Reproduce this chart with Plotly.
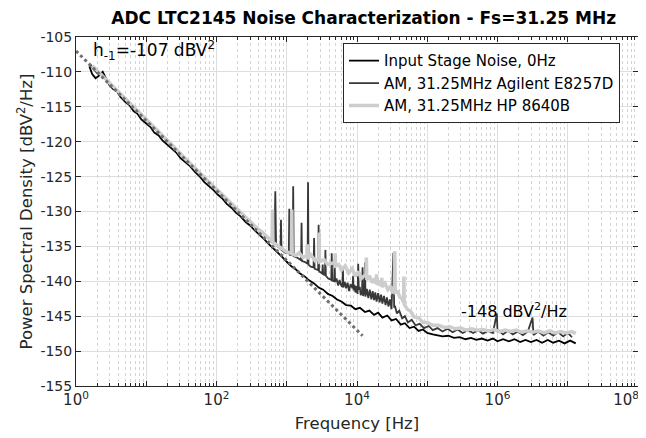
import plotly.graph_objects as go

# ---------------- data ----------------
ref_f = [1.0, 12000.0]
ref_psd = [-107.0, -147.8]

black_f = [1.55, 1.7, 1.9, 2.1, 2.4, 2.7, 3.0, 3.4, 3.8, 4.3, 5, 5.8, 6.6, 7.5, 8.5, 10, 11.5, 13, 15, 17, 20, 23, 27, 31, 36, 42,
           50, 58, 67, 78, 90, 105, 120, 140, 165, 190, 220, 260, 300, 350, 410, 480, 560, 650, 760, 880, 1000, 1150,
           1350, 1550, 1800, 2100, 2450, 2850, 3300, 3850, 4500, 5200, 6000, 7000, 8200, 9500, 11000, 13000, 15000,
           17500, 20000, 23000, 27000, 31000, 36000, 42000, 48000, 56000, 65000, 75000, 87000, 1e5, 1.2e5, 1.4e5,
           1.65e5, 2e5, 2.4e5, 2.9e5, 3.5e5, 4.2e5, 5e5, 6e5, 7.2e5, 8.6e5, 1.0e6, 1.2e6, 1.45e6, 1.75e6, 2.1e6, 2.5e6,
           3.0e6, 3.6e6, 4.3e6, 5.2e6, 6.2e6, 7.5e6, 9e6, 1.08e7, 1.3e7]
black_psd = [-109.2, -110.3, -110.9, -110.6, -110.0, -110.9, -111.9, -112.5, -112.7, -113.6, -114.3, -114.8, -115.6,
             -116.0, -116.8, -117.4, -117.9, -118.7, -119.1, -119.8, -120.4, -121.0, -121.6, -122.4, -122.9, -123.5,
             -124.4, -125.0, -125.8, -126.3, -126.9, -127.6, -128.1, -128.9, -129.5, -130.2, -130.7, -131.5, -132.0,
             -132.7, -133.3, -134.0, -134.7, -135.3, -136.0, -136.6, -137.2, -137.8, -138.3, -138.9, -139.3, -139.9,
             -140.3, -140.9, -141.2, -141.8, -142.1, -142.6, -142.9, -143.4, -143.5, -144.0, -143.8, -144.4, -144.2,
             -144.8, -144.5, -145.2, -144.9, -145.6, -145.4, -146.2, -146.0, -146.7, -146.5, -147.1, -146.9, -147.4,
             -147.6, -147.7, -147.9, -147.8, -148.1, -148.0, -148.3, -148.1, -148.4, -148.2, -148.5, -148.2, -148.6,
             -148.3, -148.6, -148.3, -148.7, -148.4, -148.7, -148.4, -148.8, -148.4, -148.8, -148.5, -148.9, -148.5,
             -148.9]

agilent_f = [1.6, 1.8, 2.0, 2.3, 2.6, 3.0, 3.5, 4, 4.6, 5.3, 6.1, 7, 8, 9.2, 10.5, 12, 14, 16, 18.5, 21, 24.5, 28, 32,
             37, 43, 50, 58, 67, 78, 90, 105, 120, 140, 165, 190, 220, 260, 300, 350, 410, 480, 560, 640,
             670, 687, 705, 760, 815, 828, 842, 950, 1070, 1087, 1105, 1215, 1235, 1255, 1400, 1600, 1625, 1650, 1800,
             1980, 2010, 2040, 2200, 2410, 2450, 2490, 2650, 2800, 2840, 2880, 3050, 3200, 3250, 3300, 3500, 3550,
             3600, 3900, 4300, 4370, 4440, 4730, 4800, 4870, 5100, 5400, 5650, 5900, 6200, 6300, 6400, 6700, 7000,
             7350, 7700, 8100, 8650, 8800, 8950, 9200, 9500, 9850, 10200, 10400, 10600, 10950, 11300, 11800, 12000,
             12200, 12800, 13000, 13200, 13800, 14500, 15200, 16000, 16700, 17500, 18200, 19000, 20000, 21000, 22000,
             23000, 24200, 25500, 26700, 28000, 29500, 31000, 33000, 33800, 34600, 37000, 40000, 44000, 48000, 53000,
             60000, 68000, 78000, 90000, 1.05e5, 1.2e5, 1.4e5, 1.65e5, 1.95e5, 2.3e5, 2.7e5, 3.2e5, 3.8e5, 4.5e5,
             5.3e5, 6.2e5, 7.3e5, 8.6e5, 9.8e5, 1.0e6, 1.02e6, 1.2e6, 1.4e6, 1.65e6, 1.95e6, 2.3e6, 2.7e6, 3.15e6,
             3.2e6, 3.25e6, 3.8e6, 4.5e6, 5.3e6, 6.2e6, 7.3e6, 8.6e6, 1.0e7, 1.15e7, 1.3e7]
agilent_psd = [-109.0, -109.6, -110.2, -110.4, -111.0, -111.6, -112.2, -112.9, -113.5, -114.0, -114.6, -115.3, -115.9,
               -116.5, -117.1, -117.6, -118.4, -118.9, -119.6, -120.1, -120.8, -121.3, -122.0, -122.5, -123.3, -123.8,
               -124.6, -125.1, -125.9, -126.4, -127.1, -127.6, -128.4, -128.9, -129.7, -130.1, -130.9, -131.4, -132.1,
               -132.6, -133.3, -133.8, -134.5,
               -134.6, -127.1, -134.8, -135.1, -135.3, -131.2, -135.5, -135.9, -136.0, -129.6, -136.2, -136.3, -126.4,
               -136.4, -136.6, -137.0, -131.6, -137.1, -137.2, -137.5, -125.8, -137.6, -137.9, -138.0, -133.8, -138.2,
               -138.3, -138.4, -131.9, -138.6, -138.7, -138.9, -137.6, -139.0, -139.1, -135.5, -139.2, -139.6, -139.8,
               -136.0, -139.9, -140.0, -136.9, -140.1, -139.6, -140.6, -139.8, -140.5, -140.8, -138.0, -140.9, -140.1,
               -141.0, -140.2, -141.4, -140.4, -141.0, -139.2, -141.3, -140.5, -141.6, -140.7, -141.8, -137.5, -141.2,
               -140.8, -142.0, -141.4, -138.0, -142.1, -141.5, -137.3, -142.2, -141.1, -142.4, -141.2, -142.6, -141.4,
               -142.7, -141.6, -142.9, -141.7, -143.0, -141.9, -143.2, -142.1, -143.4, -142.3, -143.6, -142.6, -144.0,
               -135.9, -143.8, -143.5, -144.6, -144.2, -145.3, -145.0, -145.9, -145.5, -146.3, -146.1, -146.7, -146.4,
               -147.0, -146.7, -147.2, -146.8, -147.3, -146.9, -147.4, -147.0, -147.4, -147.0, -147.5, -147.1, -147.4,
               -144.6, -147.3, -147.0, -147.6, -147.1, -147.6, -147.2, -147.7, -147.2, -145.2, -147.3, -147.7, -147.2,
               -147.8, -147.3, -147.8, -147.3, -147.9, -147.4, -148.0]

hp_f = [1.7, 2.0, 2.4, 2.8, 3.3, 3.9, 4.6, 5.4, 6.4, 7.5, 8.8, 10.3, 12, 14, 16.5, 19.5, 23, 27, 32, 37, 44, 52, 61, 72,
        85, 100, 118, 140, 165, 195, 230, 270, 320, 380, 450, 530, 610, 618, 627, 636, 700, 800, 900, 1000, 1165, 1180,
        1195, 1350, 1500, 1700, 1935, 1960, 1985, 2200, 2550, 2870, 2900, 2930, 3400, 3800, 4850, 4900, 4950, 5500,
        6000, 6800, 7600, 8500, 9500, 10500, 11500, 13400, 13600, 13800, 15000, 16500, 18000, 18800, 19000, 19200,
        21000, 22200, 22500, 22800, 25000, 27500, 30000, 32000, 34000, 34500, 35000, 38000, 41000, 44000, 46000,
        46500, 47000, 52000, 58000, 65000, 75000, 87000, 1.0e5, 1.2e5, 1.45e5, 1.75e5, 2.1e5, 2.5e5, 3.0e5, 3.6e5,
        4.3e5, 5.2e5, 6.2e5, 7.5e5, 9e5, 1.08e6, 1.3e6, 1.55e6, 1.85e6, 2.2e6, 2.65e6, 3.2e6, 3.8e6, 4.6e6, 5.5e6,
        6.6e6, 8e6, 9.6e6, 1.15e7, 1.3e7]
hp_psd = [-109.1, -109.8, -110.6, -111.3, -112.0, -112.7, -113.4, -114.1, -114.9, -115.5, -116.2, -116.9, -117.6,
          -118.3, -119.0, -119.7, -120.4, -121.1, -121.9, -122.5, -123.2, -124.0, -124.6, -125.4, -126.1, -126.8,
          -127.5, -128.2, -128.9, -129.6, -130.3, -131.0, -131.7, -132.4, -133.0, -133.6, -134.2, -134.3, -129.7,
          -134.4, -134.7, -135.1, -135.5, -135.8, -136.0, -129.7, -136.1, -136.3, -135.9, -136.6, -136.3, -134.7,
          -136.8, -136.2, -137.1, -136.7, -133.0, -137.2, -136.9, -137.6, -137.3, -136.0, -137.8, -137.6, -138.4,
          -137.8, -138.8, -138.2, -139.3, -138.6, -139.6, -139.0, -136.6, -139.8, -139.2, -140.2, -139.6, -140.3,
          -139.0, -140.5, -139.9, -140.7, -139.5, -140.8, -140.3, -141.2, -140.7, -141.5, -141.3, -135.7, -141.6,
          -141.5, -142.3, -142.5, -143.0, -139.3, -143.3, -144.0, -144.3, -145.1, -145.2, -145.9, -145.9, -146.3,
          -146.3, -146.6, -146.5, -146.8, -146.7, -147.0, -146.8, -147.0, -146.9, -147.1, -146.9, -147.2, -147.0,
          -147.2, -147.0, -147.3, -147.1, -147.3, -147.1, -147.4, -147.1, -147.4, -147.2, -147.4, -147.2, -147.5]

series_names = ["Input Stage Noise, 0Hz", "AM, 31.25MHz Agilent E8257D", "AM, 31.25MHz HP 8640B"]

x_tick_vals = [1, 10, 100, 1e3, 1e4, 1e5, 1e6, 1e7, 1e8]
x_tick_text = ["10<sup>0</sup>", "", "10<sup>2</sup>", "", "10<sup>4</sup>", "", "10<sup>6</sup>", "",
               "10<sup>8</sup>&nbsp;&nbsp;&nbsp;&nbsp;&nbsp;"]
y_tick_vals = [-155, -150, -145, -140, -135, -130, -125, -120, -115, -110, -105]
y_tick_text = ["-155", "-150", "-145", "-140", "-135", "-130", "-125", "-120", "-115", "-110", "-105"]

minor_vals = [m * 10 ** k for k in range(8) for m in range(2, 10)]

# ---------------- figure ----------------
fig = go.Figure()
fig.add_trace(go.Scatter(x=black_f, y=black_psd, mode="lines", name=series_names[0],
                         line=dict(color="#000000", width=1.8)))
fig.add_trace(go.Scatter(x=agilent_f, y=agilent_psd, mode="lines", name=series_names[1],
                         line=dict(color="#383838", width=1.8)))
fig.add_trace(go.Scatter(x=hp_f, y=hp_psd, mode="lines", name=series_names[2],
                         line=dict(color="#cdcdcd", width=3.5)))
fig.add_trace(go.Scatter(x=ref_f, y=ref_psd, mode="lines", showlegend=False,
                         line=dict(color="#6e6e6e", width=3, dash="dot")))

font_family = "DejaVu Sans"
# the page body has an 8px margin, so the figure is placed at (8, 8) in the window
fig.update_layout(
    width=638, height=430,
    margin=dict(l=68, r=8, t=29, b=52),
    plot_bgcolor="white", paper_bgcolor="white",
    font=dict(family=font_family, size=14, color="#262626"),
    title=dict(text="<b>ADC LTC2145 Noise Characterization - Fs=31.25 MHz</b>",
               x=0.512, xref="paper", xanchor="center", y=1 - 10 / 430, yref="container", yanchor="middle",
               font=dict(size=17, color="#000000")),
    legend=dict(x=0.968, y=0.982, xanchor="right", yanchor="top", bgcolor="white",
                bordercolor="#262626", borderwidth=1, font=dict(size=15, color="#000000"),
                itemwidth=30, tracegroupgap=0),
    showlegend=True,
)

fig.update_xaxes(
    type="log", range=[0, 8], automargin=False,
    tickmode="array", tickvals=x_tick_vals, ticktext=x_tick_text,
    ticks="inside", ticklen=5, tickcolor="#262626", ticklabeloverflow="allow",
    showline=True, linecolor="#262626", linewidth=1, mirror="ticks",
    showgrid=True, gridcolor="#dedede", gridwidth=1, zeroline=False,
    tickfont=dict(size=15),
    minor=dict(tickmode="array", tickvals=minor_vals, ticks="inside", ticklen=3, tickcolor="#262626",
               showgrid=True, gridcolor="#d4d4d4", griddash="dot", gridwidth=1),
    title=dict(text="Frequency [Hz]", font=dict(size=16.5), standoff=9),
)
fig.update_yaxes(
    range=[-155, -105], tickmode="array", tickvals=y_tick_vals, ticktext=y_tick_text,
    ticks="inside", ticklen=5, tickcolor="#262626",
    showline=True, linecolor="#262626", linewidth=1, mirror="ticks",
    showgrid=True, gridcolor="#dedede", gridwidth=1, zeroline=False,
    tickfont=dict(size=14),
    title=dict(text="Power Spectral Density [dBV<sup>2</sup>/Hz]", font=dict(size=16.5), standoff=3),
)

fig.add_annotation(x=0.22, y=-106.9, xref="x", yref="y", text="h<sub>-1</sub>=-107 dBV<sup>2</sup>",
                   showarrow=False, xanchor="left", yanchor="middle", font=dict(size=17, color="#000000"))
fig.add_annotation(x=5.45, y=-144.2, xref="x", yref="y", text="-148 dBV<sup>2</sup>/Hz",
                   showarrow=False, xanchor="left", yanchor="middle", font=dict(size=16, color="#000000"))

fig.write_html("out.html")
